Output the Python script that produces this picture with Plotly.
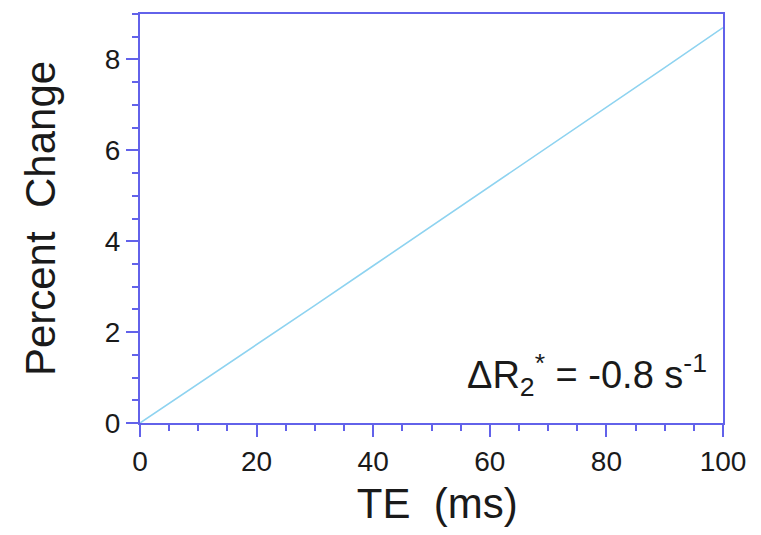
import plotly.graph_objects as go

# Data
te_ms = [0, 10, 20, 30, 40, 50, 60, 70, 80, 90, 100]
percent_change = [0.0, 0.86, 1.72, 2.59, 3.46, 4.33, 5.20, 6.07, 6.95, 7.82, 8.70]

x_tick_vals = [0, 20, 40, 60, 80, 100]
y_tick_vals = [0, 2, 4, 6, 8]
annotation_text = "ΔR<sub>2</sub><sup>*</sup> = -0.8 s<sup>-1</sup>"

axis_color = "#6262EA"
line_color = "#8ED3F0"
font_family = "Liberation Sans, Arial, Helvetica, sans-serif"

fig = go.Figure()
fig.add_trace(go.Scatter(
    x=te_ms, y=percent_change, mode="lines",
    line=dict(color=line_color, width=1.6),
    showlegend=False, hoverinfo="skip",
))

common_axis = dict(
    showgrid=False, zeroline=False, showline=True, linecolor=axis_color,
    linewidth=2, mirror=True, ticks="outside", tickcolor=axis_color,
    tickwidth=2, ticklen=12,
    tickfont=dict(family=font_family, size=28, color="#1a1a1a"),
)

fig.update_xaxes(
    range=[0, 100], tickvals=x_tick_vals,
    minor=dict(dtick=5, ticks="outside", ticklen=6, tickcolor=axis_color, tickwidth=2),
    title=dict(text="&nbsp;TE  (ms)", font=dict(family=font_family, size=42, color="#1a1a1a"), standoff=17),
    **common_axis,
)
fig.update_yaxes(
    range=[0, 9], tickvals=y_tick_vals,
    minor=dict(dtick=0.5, ticks="outside", ticklen=6, tickcolor=axis_color, tickwidth=2),
    title=dict(text="Percent  Change", font=dict(family=font_family, size=42, color="#1a1a1a"), standoff=36),
    **common_axis,
)

fig.add_annotation(
    x=1.0, y=0.0, xref="paper", yref="paper", xanchor="right", yanchor="bottom",
    xshift=-14, yshift=19,
    text=annotation_text, showarrow=False,
    font=dict(family=font_family, size=38, color="#1a1a1a"),
)

# page has an 8px body margin, so the figure is sized to fit the window
fig.update_layout(
    width=745, height=519,
    margin=dict(l=132, r=30, t=4, b=100),
    plot_bgcolor="white", paper_bgcolor="white",
)

fig.write_html("out.html")
